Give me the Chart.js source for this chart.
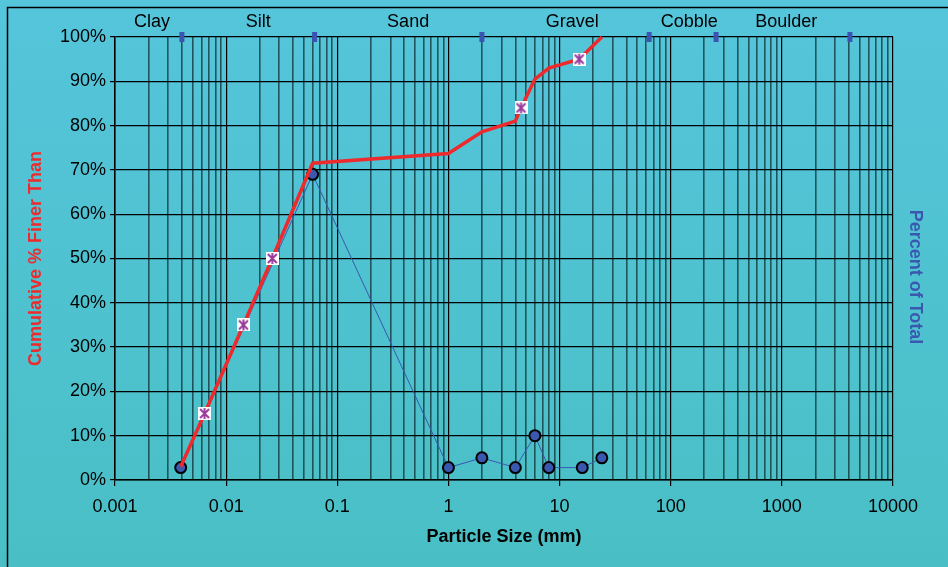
<!DOCTYPE html>
<html>
<head>
<meta charset="utf-8">
<title>Particle Size Distribution</title>
<script src="https://cdn.jsdelivr.net/npm/chart.js@4/dist/chart.umd.min.js"></script>
<style>
    html, body { margin: 0; padding: 0; background: #50c3d4; }
    #wrap { width: 948px; height: 567px; position: relative; }
</style>
</head>
<body>
<div id="wrap"><canvas id="gradChart"></canvas></div>
<script>
// Cumulative curve (red)
var sizeFiner = [0.0039, 0.0064, 0.0143, 0.026, 0.06, 1, 2, 4, 4.5, 6, 8, 15, 24];
var pctFiner = [3, 15, 35, 50, 71.5, 73.7, 78.6, 81, 84, 90.5, 93, 95, 100];
var finerMarked = [false, true, true, true, false, false, false, false, true, false, false, true, false];

// Percent of total (blue)
var sizeTotal = [0.0039, 0.06, 1, 2, 4, 6, 8, 16, 24];
var pctTotal = [2.8, 69, 2.8, 5, 2.8, 10, 2.8, 2.8, 5];

// Soil classes along the top
var classNames = ['Clay', 'Silt', 'Sand', 'Gravel', 'Cobble', 'Boulder'];
var classLabelAt = [0.00215, 0.0194, 0.434, 13, 147, 1096];
var classBounds = [0.004, 0.0625, 2, 64, 256, 4096];

// Axis ticks
var decades = [0.001, 0.01, 0.1, 1, 10, 100, 1000, 10000];
var yTicks = [0, 10, 20, 30, 40, 50, 60, 70, 80, 90, 100];

document.addEventListener('DOMContentLoaded', function () {
    Chart.defaults.font.family = '"Liberation Sans", Arial, sans-serif';
    Chart.defaults.color = '#000';

    function isDecade(v) {
        var l = Math.log10(v);
        return Math.abs(l - Math.round(l)) < 1e-6;
    }

    // marker: white box with purple asterisk
    var star = document.createElement('canvas');
    star.width = 13;
    star.height = 13;
    var sc = star.getContext('2d');
    sc.fillStyle = '#fff';
    sc.fillRect(0, 0, 13, 13);
    sc.strokeStyle = '#9a3a9c';
    sc.lineWidth = 2;
    sc.beginPath();
    sc.moveTo(2, 2); sc.lineTo(11, 11);
    sc.moveTo(11, 2); sc.lineTo(2, 11);
    sc.moveTo(6.5, 1); sc.lineTo(6.5, 12);
    sc.stroke();

    var finerData = sizeFiner.map(function (s, i) { return { x: s, y: pctFiner[i] }; });
    var totalData = sizeTotal.map(function (s, i) { return { x: s, y: pctTotal[i] }; });
    var boundData = classBounds.map(function (s) { return { x: s, y: 100 }; });

    var xTickValues = [];
    for (var e = -3; e < 4; e++) {
        for (var k = 1; k < 10; k++) {
            xTickValues.push(parseFloat((k * Math.pow(10, e)).toPrecision(6)));
        }
    }
    xTickValues.push(10000);

    var backdrop = {
        id: 'backdrop',
        beforeDraw: function (chart) {
            var c = chart.ctx;
            var g = c.createLinearGradient(0, 0, 0, chart.height);
            g.addColorStop(0, '#55c5db');
            g.addColorStop(1, '#49bfc5');
            c.save();
            c.fillStyle = g;
            c.fillRect(0, 0, chart.width, chart.height);
            c.strokeStyle = '#000';
            c.lineWidth = 1.5;
            c.strokeRect(7.5, 7.5, chart.width, chart.height);
            c.restore();
        },
        afterDraw: function (chart) {
            var c = chart.ctx;
            var xs = chart.scales.x;
            c.save();
            c.font = '18px "Liberation Sans", Arial, sans-serif';
            c.fillStyle = '#000';
            c.textAlign = 'center';
            c.textBaseline = 'middle';
            classNames.forEach(function (n, i) {
                c.fillText(n, xs.getPixelForValue(classLabelAt[i]), 22);
            });
            // right axis title
            c.font = 'bold 18px "Liberation Sans", Arial, sans-serif';
            c.fillStyle = '#3a58b0';
            c.translate(915, 277);
            c.rotate(Math.PI / 2);
            c.fillText('Percent of Total', 0, 0);
            c.restore();
        }
    };

    var ctx = document.getElementById('gradChart');
    new Chart(ctx, {
        type: 'line',
        data: {
            datasets: [{
                label: 'Cumulative % Finer Than',
                data: finerData,
                borderColor: '#ee2a2c',
                borderWidth: 3.5,
                pointStyle: function (c) { return finerMarked[c.dataIndex] ? star : 'circle'; },
                pointRadius: function (c) { return finerMarked[c.dataIndex] ? 6 : 0; },
                clip: false
            }, {
                label: 'Percent of Total',
                data: totalData,
                borderColor: '#3a58b0',
                borderWidth: 1,
                pointBackgroundColor: '#3a58b0',
                pointBorderColor: '#000',
                pointBorderWidth: 2,
                pointRadius: 5.5,
                clip: false
            }, {
                label: 'Class limits',
                data: boundData,
                showLine: false,
                pointStyle: 'line',
                rotation: 90,
                pointRadius: 5,
                pointBorderWidth: 5,
                pointBorderColor: '#3a55b0',
                clip: false
            }]
        },
        options: {
            responsive: true,
            maintainAspectRatio: false,
            animation: false,
            layout: { padding: { top: 37, left: 0, right: 0, bottom: 0 } },
            scales: {
                x: {
                    type: 'logarithmic',
                    min: 0.001,
                    max: 10000,
                    afterBuildTicks: function (s) {
                        s.ticks = xTickValues.map(function (v) { return { value: v }; });
                    },
                    afterFit: function (s) { s.height = 87; },
                    ticks: {
                        autoSkip: false,
                        maxRotation: 0,
                        padding: 10,
                        font: { size: 18 },
                        callback: function (v) { return isDecade(v) ? String(v) : ''; }
                    },
                    grid: {
                        color: function (c) {
                            return c.tick && isDecade(c.tick.value) ? '#000' : 'rgba(20,55,60,0.8)';
                        },
                        tickColor: function (c) {
                            return c.tick && isDecade(c.tick.value) ? '#000' : 'rgba(0,0,0,0)';
                        },
                        lineWidth: function (c) {
                            return c.tick && isDecade(c.tick.value) ? 1.2 : 1.6;
                        },
                        tickLength: 6
                    },
                    border: { color: '#000', width: 1.5 },
                    title: {
                        display: true,
                        text: 'Particle Size (mm)',
                        font: { size: 18, weight: 'bold' },
                        padding: { top: 0, bottom: 19 }
                    }
                },
                y: {
                    min: 0,
                    max: 100,
                    afterBuildTicks: function (s) {
                        s.ticks = yTicks.map(function (v) { return { value: v }; });
                    },
                    afterFit: function (s) { s.width = 115; },
                    ticks: {
                        padding: 4,
                        font: { size: 18 },
                        callback: function (v) { return v + '%'; }
                    },
                    grid: { color: '#000', lineWidth: 1.2, tickLength: 5 },
                    border: { color: '#000', width: 1.5 },
                    title: {
                        display: true,
                        text: 'Cumulative % Finer Than',
                        color: '#ee2a2c',
                        font: { size: 18, weight: 'bold' },
                        padding: { top: 25, bottom: 0 }
                    }
                },
                y2: {
                    position: 'right',
                    min: 0,
                    max: 100,
                    afterFit: function (s) { s.width = 55; },
                    ticks: { display: false },
                    grid: { display: false },
                    border: { display: false }
                }
            },
            plugins: {
                legend: { display: false },
                tooltip: { enabled: false }
            }
        },
        plugins: [backdrop]
    });
});
</script>
</body>
</html>
